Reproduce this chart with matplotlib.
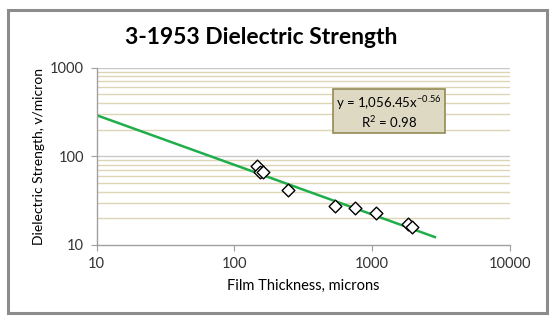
import numpy as np
import matplotlib.pyplot as plt
from matplotlib.patches import FancyBboxPatch

# Data
thickness = [145, 153, 160, 245, 536, 749, 1064, 1825, 1941]
strength = [78, 66, 66, 41.8, 27.8, 26.4, 23.2, 17.1, 16.1]

# Power trend line y = a * x^b
fit_a = 1056.45
fit_b = -0.56
fit_range = [10, 2850]

x_ticks = [10, 100, 1000, 10000]
y_ticks = [10, 100, 1000]

plt.rcParams['font.family'] = ['Lato', 'DejaVu Sans']
plt.rcParams['mathtext.fontset'] = 'custom'
plt.rcParams['mathtext.rm'] = 'Lato'

fig = plt.figure(figsize=(5.56, 3.22), dpi=100)

# outer chart frame
frame = FancyBboxPatch((8 / 556, 9 / 322), 539 / 556, 303 / 322,
                       boxstyle="square,pad=0", transform=fig.transFigure,
                       fill=False, edgecolor="#8c8c8c", linewidth=2.2)
fig.patches.append(frame)

ax = fig.add_axes([96.7 / 556, 1 - 245 / 322, 413.3 / 556, 177.3 / 322])
ax.set_xscale("log")
ax.set_yscale("log")
ax.set_xlim(10, 10000)
ax.set_ylim(10, 1000)

# horizontal gridlines
for dec in [10, 100]:
    for m in range(2, 10):
        ax.axhline(dec * m, color="#ddd5b4", linewidth=1.0, zorder=0)
ax.axhline(100, color="#c8c8c8", linewidth=1.0, zorder=0)
ax.axhline(1000, color="#c8c8c8", linewidth=1.0, zorder=0)

# trend line
xf = np.logspace(np.log10(fit_range[0]), np.log10(fit_range[1]), 100)
ax.plot(xf, fit_a * xf ** fit_b, color="#1fae4a", linewidth=1.8, zorder=2)

ax.scatter(thickness, strength, marker="D", s=42, facecolor="white",
           edgecolor="black", linewidth=1.0, zorder=3)

for s in ["top", "right"]:
    ax.spines[s].set_visible(False)
for s in ["left", "bottom"]:
    ax.spines[s].set_color("#a0a0a0")
    ax.spines[s].set_linewidth(1.0)

ax.set_xticks(x_ticks)
ax.set_xticklabels([str(v) for v in x_ticks])
ax.set_yticks(y_ticks)
ax.set_yticklabels([str(v) for v in y_ticks])
ax.minorticks_off()
ax.tick_params(axis="both", length=4, color="#a0a0a0", labelsize=10.5,
               labelcolor="#333333", pad=5)

ax.set_xlabel("Film Thickness, microns", fontsize=10.5, labelpad=5)
ax.set_ylabel("Dielectric Strength, v/micron", fontsize=10, labelpad=4)

fig.text(0.47, 1 - 38 / 322, "3-1953 Dielectric Strength", ha="center",
         va="center", fontsize=16.5, fontweight="bold")

ax.text(389 / 556, 1 - 112 / 322,
        "y = 1,056.45x$^{-0.56}$\nR$^2$ = 0.98",
        transform=fig.transFigure, ha="center", va="center", fontsize=9.5,
        linespacing=1.1, zorder=5,
        bbox=dict(boxstyle="square,pad=0.25", facecolor="#ddd9c3",
                  edgecolor="#948a54", linewidth=1.2))

fig.savefig("out.png", dpi=100)
